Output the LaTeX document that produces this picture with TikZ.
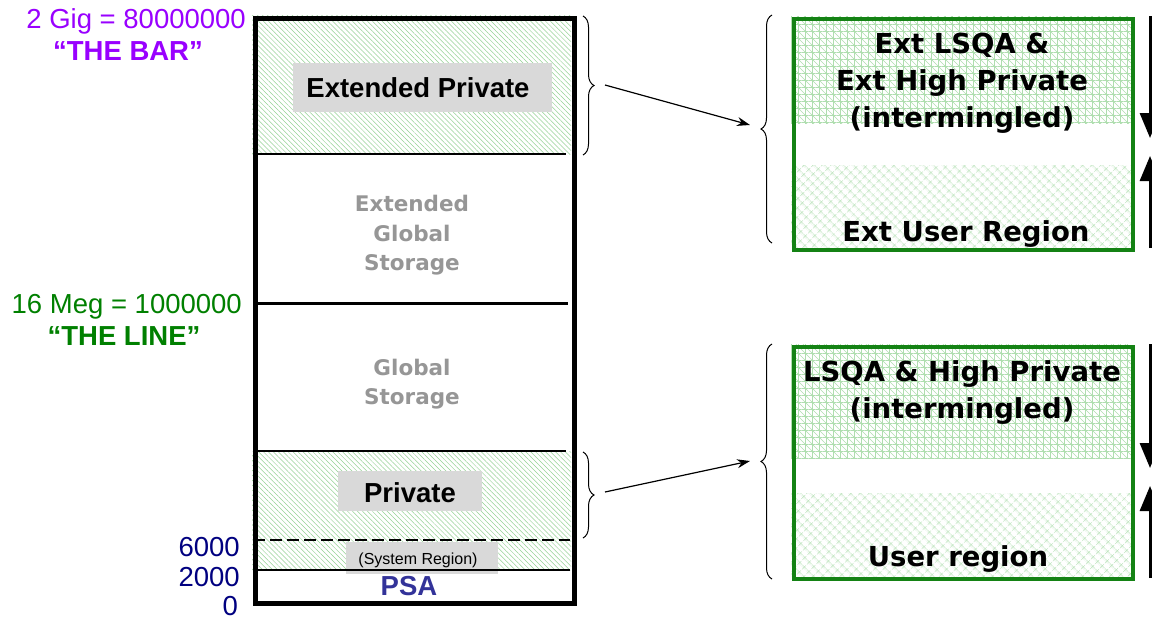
\documentclass[tikz,border=0pt]{standalone}
\usepackage{fontspec}
\setmainfont{Liberation Sans}
\newfontfamily\boxfont{DejaVu Sans}
\usetikzlibrary{patterns.meta,decorations.pathreplacing,arrows.meta}

\definecolor{hatchgreen}{RGB}{150,210,150}
\definecolor{gridgreen}{RGB}{175,222,175}
\definecolor{boxgray}{RGB}{217,217,217}
\definecolor{labelgray}{RGB}{150,150,150}
\definecolor{barpurple}{RGB}{153,0,255}
\definecolor{linegreen}{RGB}{0,128,0}
\definecolor{addrnavy}{RGB}{0,0,128}
\definecolor{psablue}{RGB}{51,51,153}
\definecolor{frame}{RGB}{20,130,20}

\tikzset{
  mainhatch/.style={pattern={Lines[angle=-45,distance=3.5pt,line width=0.5pt]},pattern color=hatchgreen},
  gridhatch/.style={pattern={Hatch[angle=0,distance=7pt,line width=0.5pt]},pattern color=gridgreen},
  diaghatch/.style={pattern={Lines[angle=-45,distance=4.95pt,line width=0.5pt]},pattern color=gridgreen},
  crosshatch/.style={pattern={Hatch[angle=45,distance=6.5pt,line width=0.5pt]},pattern color=gridgreen},
  labelbox/.style={fill=boxgray,draw=none,inner sep=0pt,anchor=north west},
  txt/.style={anchor=base,inner sep=0pt},
  arial/.style={txt,font=\fontsize{27.5}{33}\selectfont},
  arialbold/.style={txt,font=\fontsize{27.5}{33}\selectfont\bfseries},
  grayhead/.style={txt,text=labelgray,font=\boxfont\bfseries\fontsize{21.5}{30}\selectfont},
  boxhead/.style={txt,font=\boxfont\bfseries\fontsize{27.5}{37}\selectfont},
  greenbox/.style={draw=frame,line width=4.5pt,inner sep=0pt,anchor=north west},
  bracket/.style={decorate,decoration={brace,amplitude=11pt,aspect=0.5},line width=1pt},
  pointer/.style={-{Stealth[length=13pt,width=9pt]},line width=1.2pt},
  growth/.style={-{Triangle[length=25pt,width=20pt]},line width=3pt},
}

\begin{document}
\begin{tikzpicture}[x=1pt,y=-1pt]
\useasboundingbox (0,0) rectangle (1152,619);
\fill[white] (0,0) rectangle (1152,619);

% ---- address space column ----
\fill[mainhatch] (252,15) rectangle (571,154);
\fill[mainhatch] (252,451) rectangle (571,570);

\node[labelbox,minimum width=259pt,minimum height=49pt] (extprivbox) at (293,63) {};
\node[labelbox,minimum width=144pt,minimum height=40pt] (privbox) at (338,471) {};
\node[labelbox,minimum width=152pt,minimum height=32pt] (sysbox) at (346,542) {};

\node[arialbold] (extpriv) at (418,97) {Extended Private};
\node[arialbold] (priv) at (410,502) {Private};
\node[txt,font=\fontsize{16}{19}\selectfont] (sysreg) at (418,564) {(System Region)};
\node[arialbold,text=psablue] (psa) at (409,595) {PSA};

\node[grayhead] (eg1) at (412,211) {Extended};
\node[grayhead] (eg2) at (412,241) {Global};
\node[grayhead] (eg3) at (412,270) {Storage};
\node[grayhead] (g1) at (412,375) {Global};
\node[grayhead] (g2) at (412,404) {Storage};

% region boundaries
\draw[line width=1.5pt] (253,154) -- (566,154);
\draw[line width=3pt] (253,303) -- (568,303);
\draw[line width=1.5pt] (253,451) -- (566,451);
\draw[line width=2.5pt,dash pattern=on 12pt off 5pt] (253,540) -- (570,540);
\draw[line width=1.5pt] (253,570) -- (570,570);

\node[draw,line width=5pt,inner sep=0pt,anchor=north west,minimum width=319pt,minimum height=585pt] (column) at (252.5,15.5) {};

% ---- address labels ----
\node[arial,anchor=base east,text=barpurple] (gig) at (246,28) {2 Gig = 80000000};
\node[arialbold,text=barpurple] (bar) at (128,60) {“THE BAR”};
\node[arial,anchor=base east,text=linegreen] (meg) at (242,313) {16 Meg = 1000000};
\node[arialbold,text=linegreen] (line) at (124,345) {“THE LINE”};
\node[arial,anchor=base east,text=addrnavy] (a6000) at (240,556) {6000};
\node[arial,anchor=base east,text=addrnavy] (a2000) at (240,586) {2000};
\node[arial,anchor=base east,text=addrnavy] (a0) at (238,615) {0};

% ---- braces and pointers ----
\coordinate (extTop) at (583,16);
\coordinate (extBot) at (583,155);
\coordinate (privTop) at (583,452);
\coordinate (privBot) at (583,538);
\draw[bracket] (extTop) -- (extBot);
\draw[bracket] (privTop) -- (privBot);

\coordinate (rTop1) at (772,15);
\coordinate (rBot1) at (772,243);
\coordinate (rTop2) at (772,344);
\coordinate (rBot2) at (772,579);
\draw[bracket] (rBot1) -- (rTop1);
\draw[bracket] (rBot2) -- (rTop2);

\coordinate (extOut) at (605,85);
\coordinate (extIn) at (750,125);
\coordinate (privOut) at (605,492);
\coordinate (privIn) at (750,461);
\draw[pointer] (extOut) -- (extIn);
\draw[pointer] (privOut) -- (privIn);

% ---- expanded views ----
\fill[gridhatch] (791,16) rectangle (1131,123);
\fill[diaghatch] (791,16) rectangle (1131,123);
\fill[crosshatch] (791,165) rectangle (1131,248);
\node[greenbox,minimum width=339pt,minimum height=231pt] (extview) at (791.5,16.5) {};

\node[boxhead] (e1) at (962,53) {Ext LSQA \&};
\node[boxhead] (e2) at (962,90) {Ext High Private};
\node[boxhead] (e3) at (962,127) {(intermingled)};
\node[boxhead] (e4) at (966,241) {Ext User Region};

\fill[gridhatch] (791,344) rectangle (1131,458);
\fill[diaghatch] (791,344) rectangle (1131,458);
\fill[crosshatch] (791,493) rectangle (1131,577);
\node[greenbox,minimum width=339pt,minimum height=232pt] (view) at (791.5,344.5) {};

\node[boxhead] (p1) at (962,381) {LSQA \& High Private};
\node[boxhead] (p2) at (962,418) {(intermingled)};
\node[boxhead] (p3) at (958,566) {User region};

% growth direction arrows at the right edge
\coordinate (d1s) at (1150,16);
\coordinate (d1e) at (1150,138);
\coordinate (u1s) at (1150,248);
\coordinate (u1e) at (1150,156);
\coordinate (d2s) at (1150,344);
\coordinate (d2e) at (1150,468);
\coordinate (u2s) at (1150,578);
\coordinate (u2e) at (1150,486);
\draw[growth] (d1s) -- (d1e);
\draw[growth] (u1s) -- (u1e);
\draw[growth] (d2s) -- (d2e);
\draw[growth] (u2s) -- (u2e);
\end{tikzpicture}
\end{document}
